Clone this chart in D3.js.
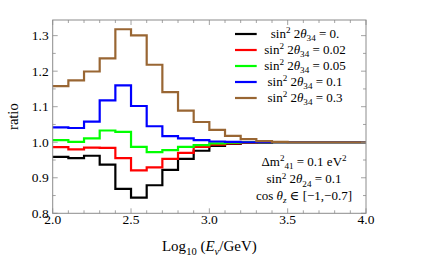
<!DOCTYPE html>
<html>
<head>
<meta charset="utf-8">
<script src="https://cdn.jsdelivr.net/npm/d3@7"></script>
<style>
  html, body { margin: 0; padding: 0; background: #fff; }
  svg { display: block; }
  svg text { font-family: "Liberation Serif", "Times New Roman", Times, "DejaVu Serif", serif; }
</style>
</head>
<body>
<div id="chart"></div>
<script>
// bin left edges in log10(E/GeV), width 0.1
const binEdges = d3.range(20).map(i => +(2 + i * 0.1).toFixed(1));

const mixingLabels = ["0.", "0.02", "0.05", "0.1", "0.3"];
const seriesColors = ["#000000", "#ff0000", "#00ff00", "#0000ff", "#996633"];

const ratioS0 = [0.959, 0.955, 0.962, 0.937, 0.869, 0.844, 0.879, 0.922, 0.953, 0.976, 0.990, 0.995, 0.998, 0.999, 1.0, 1.0, 1.0, 1.0, 1.0, 1.0];
const ratioS002 = [0.986, 0.980, 0.985, 0.984, 0.955, 0.921, 0.929, 0.953, 0.970, 0.987, 0.993, 0.997, 0.999, 1.0, 1.0, 1.0, 1.0, 1.0, 1.0, 1.0];
const ratioS005 = [1.006, 1.001, 1.011, 1.033, 1.029, 0.987, 0.972, 0.978, 0.987, 0.992, 0.997, 0.999, 1.0, 1.0, 1.0, 1.0, 1.0, 1.0, 1.0, 1.0];
const ratioS01 = [1.042, 1.040, 1.058, 1.118, 1.160, 1.102, 1.045, 1.017, 1.011, 1.006, 1.002, 1.001, 1.0, 1.0, 1.0, 1.0, 1.0, 1.0, 1.0, 1.0];
const ratioS03 = [1.158, 1.174, 1.199, 1.236, 1.318, 1.301, 1.218, 1.141, 1.089, 1.057, 1.035, 1.018, 1.009, 1.003, 1.001, 1.0, 1.0, 1.0, 1.0, 1.0];

const allSeries = [ratioS0, ratioS002, ratioS005, ratioS01, ratioS03];

const xTickLabels = ["2.0", "2.5", "3.0", "3.5", "4.0"];
const yTickLabels = ["0.8", "0.9", "1.0", "1.1", "1.2", "1.3"];

const W = 421, H = 264;
const M = { left: 52.7, right: 366, top: 20, bottom: 213.3 };
const FONT = '"Liberation Serif", "Times New Roman", Times, serif';
const FRAME = "#8c8c8c";

const x = d3.scaleLinear().domain([2, 4]).range([M.left, M.right]);
const y = d3.scaleLinear().domain([0.8, 1.344]).range([M.bottom, M.top]);

const svg = d3.select("#chart").append("svg")
  .attr("width", W).attr("height", H)
  .attr("font-family", FONT);

// rich text: parts = [{t, s: "sup"|"sub", i: italic}]
function richText(px, py, parts, size, anchor = "middle") {
  const t = svg.append("text")
    .attr("x", px).attr("y", py)
    .attr("text-anchor", anchor)
    .attr("font-size", size)
    .attr("fill", "#000");
  let shift = 0;
  parts.forEach(p => {
    let target = 0, fs = size;
    if (p.s === "sup") { target = -size * 0.36; fs = size * 0.7; }
    if (p.s === "sub") { target = size * 0.26; fs = size * 0.7; }
    t.append("tspan")
      .attr("dy", target - shift)
      .attr("font-size", fs)
      .attr("font-style", p.i ? "italic" : "normal")
      .text(p.t);
    shift = target;
  });
  return t;
}

// series as step lines
const line = d3.line()
  .x(d => x(d[0]))
  .y(d => y(d[1]))
  .curve(d3.curveStepAfter);

const plot = svg.append("g");
allSeries.forEach((vals, k) => {
  const pts = binEdges.map((e, i) => [e, vals[i]]);
  pts.push([4, vals[vals.length - 1]]);
  plot.append("path")
    .attr("d", line(pts))
    .attr("fill", "none")
    .attr("stroke", seriesColors[k])
    .attr("stroke-width", 2.2)
    .attr("stroke-linejoin", "miter");
});

// frame
svg.append("rect")
  .attr("x", M.left).attr("y", M.top)
  .attr("width", M.right - M.left).attr("height", M.bottom - M.top)
  .attr("fill", "none").attr("stroke", FRAME).attr("stroke-width", 1);

// ticks, inward on all four sides
const xMinor = d3.range(21).map(i => 2 + i * 0.1);
const yMinor = d3.range(11).map(i => 0.8 + i * 0.05);
const ticks = svg.append("g").attr("stroke", FRAME).attr("stroke-width", 0.8);

xMinor.forEach((v, i) => {
  const len = i % 5 === 0 ? 5 : 3;
  const px = x(v);
  ticks.append("line").attr("x1", px).attr("x2", px).attr("y1", M.bottom).attr("y2", M.bottom - len);
  ticks.append("line").attr("x1", px).attr("x2", px).attr("y1", M.top).attr("y2", M.top + len);
});
yMinor.forEach((v, i) => {
  const len = i % 2 === 0 ? 5 : 3;
  const py = y(v);
  ticks.append("line").attr("x1", M.left).attr("x2", M.left + len).attr("y1", py).attr("y2", py);
  ticks.append("line").attr("x1", M.right).attr("x2", M.right - len).attr("y1", py).attr("y2", py);
});

// tick labels
xTickLabels.forEach(l => {
  svg.append("text")
    .attr("x", x(+l)).attr("y", M.bottom + 11)
    .attr("text-anchor", "middle")
    .attr("font-size", 13.5)
    .text(l);
});
yTickLabels.forEach(l => {
  svg.append("text")
    .attr("x", M.left - 4).attr("y", y(+l) + 4.5)
    .attr("text-anchor", "end")
    .attr("font-size", 13.5)
    .text(l);
});

// axis titles
svg.append("text")
  .attr("transform", `translate(18,${(M.top + M.bottom) / 2}) rotate(-90)`)
  .attr("text-anchor", "middle")
  .attr("font-size", 14.5)
  .text("ratio");

richText((M.left + M.right) / 2, 251, [
  { t: "Log" }, { t: "10", s: "sub" }, { t: " (" }, { t: "E", i: true },
  { t: "ν", s: "sub", i: true }, { t: "/GeV)" }
], 15);

// legend
mixingLabels.forEach((lab, k) => {
  const ly = 34 + k * 16;
  svg.append("line")
    .attr("x1", 235).attr("x2", 256.7)
    .attr("y1", ly).attr("y2", ly)
    .attr("stroke", seriesColors[k]).attr("stroke-width", 2.2);
  richText(305, ly + 4, [
    { t: "sin" }, { t: "2", s: "sup" }, { t: " 2" }, { t: "θ", i: true },
    { t: "34", s: "sub" }, { t: " = " + lab }
  ], 13);
});

// parameter notes
richText(304, 166, [
  { t: "Δm" }, { t: "2", s: "sup" }, { t: "41", s: "sub" }, { t: " = 0.1 eV" }, { t: "2", s: "sup" }
], 13);
richText(304, 183.3, [
  { t: "sin" }, { t: "2", s: "sup" }, { t: " 2" }, { t: "θ", i: true }, { t: "24", s: "sub" }, { t: " = 0.1" }
], 13);
richText(304, 200, [
  { t: "cos " }, { t: "θ", i: true }, { t: "z", s: "sub", i: true }, { t: " ∈ [−1,−0.7]" }
], 13);
</script>
</body>
</html>
